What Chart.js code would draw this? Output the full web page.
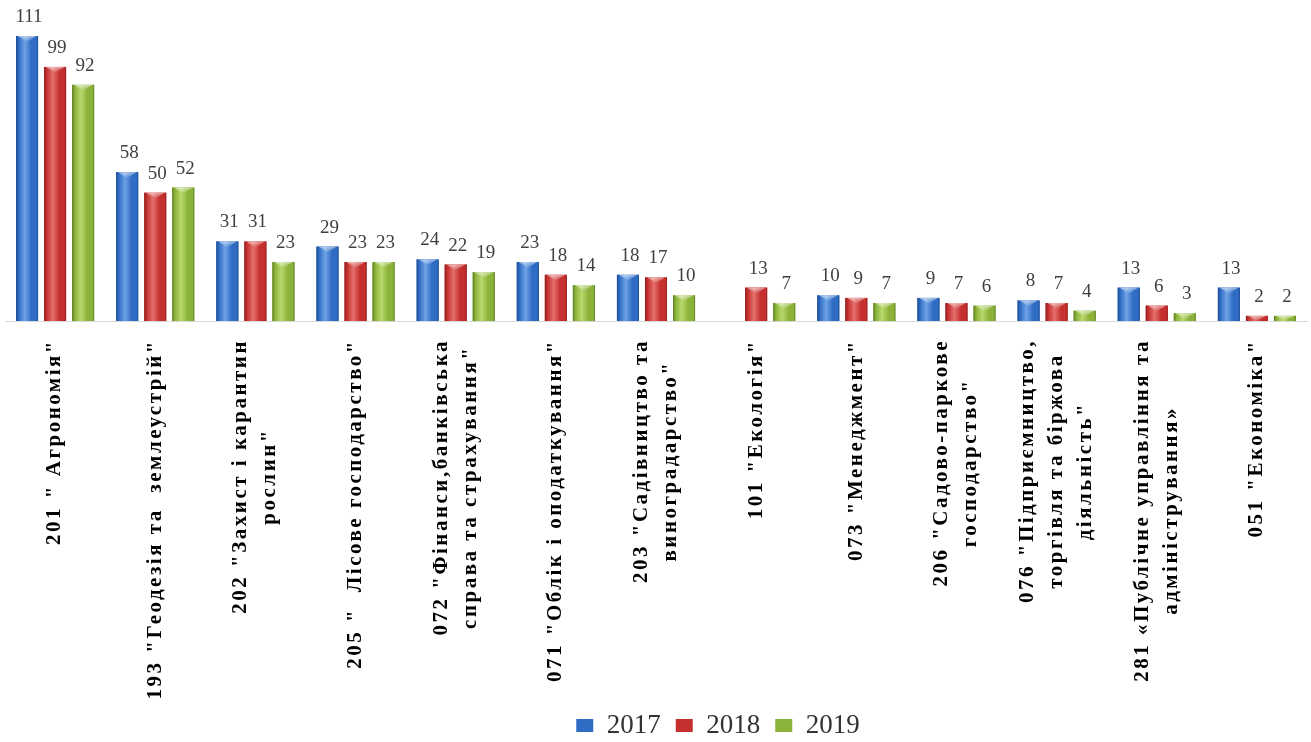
<!DOCTYPE html>
<html><head><meta charset="utf-8">
<script src="https://cdn.jsdelivr.net/npm/chart.js@4.4.1/dist/chart.umd.min.js"></script>
<style>html,body{margin:0;padding:0;background:#fff;}#wrap{width:1311px;height:742px;position:relative;}</style>
</head><body><div id="wrap"><canvas id="c" width="1311" height="742"></canvas></div>
<script>
const categories = [
  ['201 " Агрономія"'],
  ['193 "Геодезія та  землеустрій"'],
  ['202 "Захист і карантин', 'рослин"'],
  ['205 "  Лісове господарство"'],
  ['072 "Фінанси,банківська', 'справа та страхування"'],
  ['071 "Облік і оподаткування"'],
  ['203 "Садівництво та', 'виноградарство"'],
  ['101 "Екологія"'],
  ['073 "Менеджмент"'],
  ['206 "Садово-паркове', 'господарство"'],
  ['076 "Підприємництво,', 'торгівля та біржова', 'діяльність"'],
  ['281 «Публічне управління та', 'адміністрування»'],
  ['051 "Економіка"']
];
const seriesNames = ['2017', '2018', '2019'];
const values2017 = [111, 58, 31, 29, 24, 23, 18, null, 10, 9, 8, 13, 13];
const values2018 = [99, 50, 31, 23, 22, 18, 17, 13, 9, 7, 7, 6, 2];
const values2019 = [92, 52, 23, 23, 19, 14, 10, 7, 7, 6, 4, 3, 2];

const baseColors = ['#2f6cc4', '#c5302f', '#8bb33a'];
const darkColors = ['#1b4a8f', '#8e1f1f', '#5d7d22'];
const lightColors = ['#6fa2e6', '#e4706c', '#b9d86d'];

const LABEL_FONT = 'bold 21px "Liberation Serif", "Times New Roman", serif';
const LABEL_LINE = 29;
const LABEL_SPACING = '2.5px';

const barShade = {
  id: 'barShade',
  afterDatasetsDraw(chart) {
    const ctx = chart.ctx;
    chart.data.datasets.forEach((ds, di) => {
      const meta = chart.getDatasetMeta(di);
      meta.data.forEach((bar, i) => {
        if (ds.data[i] == null) return;
        const p = bar.getProps(['x', 'y', 'base', 'width'], true);
        const l = p.x - p.width / 2, r = p.x + p.width / 2;
        const g = ctx.createLinearGradient(l, 0, r, 0);
        g.addColorStop(0, darkColors[di]);
        g.addColorStop(0.12, baseColors[di]);
        g.addColorStop(0.4, lightColors[di]);
        g.addColorStop(0.7, baseColors[di]);
        g.addColorStop(0.92, baseColors[di]);
        g.addColorStop(1, darkColors[di]);
        ctx.save();
        ctx.fillStyle = g;
        ctx.fillRect(l, p.y, p.width, p.base - p.y);
        const capH = Math.min(6, p.base - p.y);
        const cg = ctx.createLinearGradient(0, p.y, 0, p.y + capH);
        cg.addColorStop(0, 'rgba(255,255,255,0.55)');
        cg.addColorStop(1, 'rgba(255,255,255,0)');
        ctx.fillStyle = cg;
        ctx.beginPath();
        ctx.moveTo(l + 2, p.y);
        ctx.lineTo(r - 2, p.y);
        ctx.lineTo(p.x, p.y + capH);
        ctx.closePath();
        ctx.fill();
        ctx.restore();
      });
    });
  }
};

const valueLabels = {
  id: 'valueLabels',
  afterDatasetsDraw(chart) {
    const ctx = chart.ctx;
    ctx.save();
    ctx.font = '19px "Liberation Serif", "Times New Roman", serif';
    ctx.fillStyle = '#404040';
    ctx.textAlign = 'center';
    ctx.textBaseline = 'alphabetic';
    chart.data.datasets.forEach((ds, di) => {
      const meta = chart.getDatasetMeta(di);
      meta.data.forEach((bar, i) => {
        const v = ds.data[i];
        if (v == null) return;
        ctx.fillText(String(v), bar.x + 2, bar.y - 14);
      });
    });
    ctx.restore();
  }
};

const catLabels = {
  id: 'catLabels',
  afterDraw(chart) {
    const ctx = chart.ctx;
    const xs = chart.scales.x;
    ctx.save();
    ctx.font = LABEL_FONT;
    ctx.letterSpacing = LABEL_SPACING;
    ctx.fillStyle = '#000';
    ctx.textAlign = 'center';
    ctx.textBaseline = 'middle';
    const topY = xs.top + 18;
    categories.forEach((lines, i) => {
      const cx = xs.getPixelForTick(i);
      const maxW = Math.max(...lines.map(s => ctx.measureText(s).width));
      const cy = topY + maxW / 2;
      lines.forEach((s, j) => {
        const lx = cx + (j - (lines.length - 1) / 2) * LABEL_LINE;
        ctx.save();
        ctx.translate(lx, cy);
        ctx.rotate(-Math.PI / 2);
        ctx.fillText(s, 0, 0);
        ctx.restore();
      });
    });
    ctx.restore();
  }
};

const legendShift = {
  id: 'legendShift',
  afterLayout(chart) {
    const lg = chart.legend;
    if (!lg) return;
    lg.left += 62; lg.right += 62;
    lg.top += 7; lg.bottom += 7;
  }
};

new Chart(document.getElementById('c'), {
  type: 'bar',
  data: {
    labels: categories,
    datasets: [
      { label: seriesNames[0], data: values2017, backgroundColor: baseColors[0] },
      { label: seriesNames[1], data: values2018, backgroundColor: baseColors[1] },
      { label: seriesNames[2], data: values2019, backgroundColor: baseColors[2] }
    ]
  },
  options: {
    responsive: false,
    animation: false,
    devicePixelRatio: 1,
    layout: { padding: { top: 13, left: 5, right: 4, bottom: 0 } },
    datasets: { bar: { categoryPercentage: 0.84, barPercentage: 0.786 } },
    scales: {
      x: {
        grid: { display: false },
        border: { display: true, color: '#d9d9d9', width: 1 },
        ticks: { display: false },
        afterFit(scale) { scale.height = 369; }
      },
      y: { display: false, min: 0, max: 120 }
    },
    plugins: {
      legend: {
        position: 'bottom',
        labels: {
          font: { family: '"Liberation Serif", "Times New Roman", serif', size: 27 },
          color: '#333333',
          boxWidth: 17, boxHeight: 13, padding: 15
        }
      },
      tooltip: { enabled: false }
    }
  },
  plugins: [barShade, valueLabels, catLabels, legendShift]
});
</script></body></html>
